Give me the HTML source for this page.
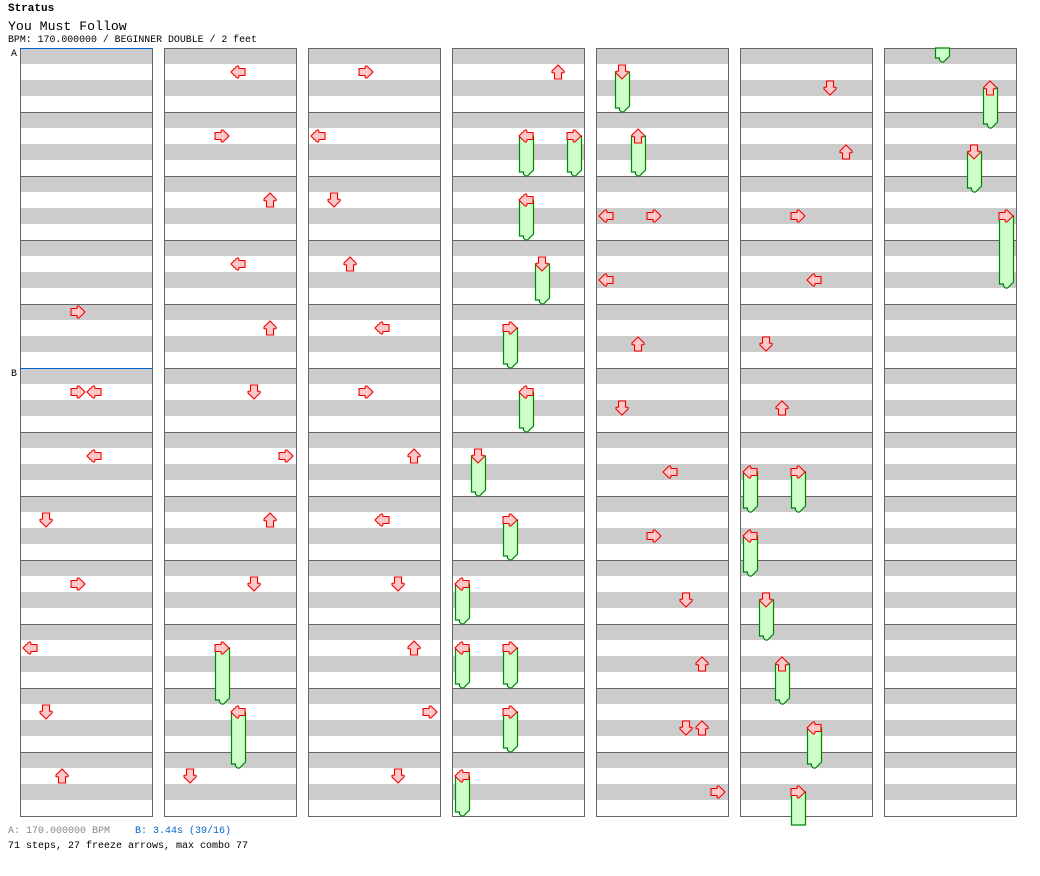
<!DOCTYPE html>
<html><head><meta charset="utf-8">
<style>
body{margin:0;background:#fff;width:1040px;height:876px;overflow:hidden;font-family:"Liberation Mono",monospace;}
.t{position:absolute;left:8px;white-space:pre;color:#000}
</style></head><body>
<div class="t" style="top:3px;font-size:11px;font-weight:bold">Stratus</div>
<div class="t" style="top:19px;font-size:13.2px">You Must Follow</div>
<div class="t" style="top:34px;font-size:9.9px">BPM: 170.000000 / BEGINNER DOUBLE / 2 feet</div>
<div class="t" style="top:48px;left:11px;font-size:9.9px">A</div>
<div class="t" style="top:368px;left:11px;font-size:9.9px">B</div>
<div class="t" style="top:826px;font-size:10px;color:#888">A: 170.000000 BPM</div>
<div class="t" style="top:826px;left:135px;font-size:10px;color:#0066cc">B: 3.44s (39/16)</div>
<div class="t" style="top:841px;font-size:10px">71 steps, 27 freeze arrows, max combo 77</div>
<svg id="s" width="1040" height="876" style="position:absolute;left:0;top:0" xmlns="http://www.w3.org/2000/svg"></svg>
<script>
var s='';
var cols=[20,164,308,452,596,740,884];
cols.forEach(function(x){
  for(var m=0;m<12;m++){var y=48+m*64;
    s+='<rect x="'+x+'" y="'+y+'" width="132" height="16" fill="#ccc"/><rect x="'+x+'" y="'+(y+32)+'" width="132" height="16" fill="#ccc"/>';
    if(m>0)s+='<line x1="'+x+'" y1="'+(y+.5)+'" x2="'+(x+132)+'" y2="'+(y+.5)+'" stroke="#666"/>';}
  s+='<rect x="'+(x+.5)+'" y="48.5" width="132" height="768" fill="none" stroke="#666"/>';
});
s+='<line x1="20" y1="48.5" x2="152" y2="48.5" stroke="#0066cc"/><line x1="20" y1="368.5" x2="152" y2="368.5" stroke="#0066cc"/>';
var rot=[0,270,90,180];
function arrow(c,l,t){var x=cols[c]+2+16*l;
 return '<g transform="translate('+x+','+t+') rotate('+rot[l%4]+',8,8)"><polygon points="1,8 7,2 8.5,2 9,4.5 15,4.5 15,11.5 9,11.5 8.5,14 7,14" fill="#ffc8c8" stroke="#e00" stroke-width="1.1"/></g>';}
function frz(c,l,t,e,notail){var x=cols[c]+3+16*l+.5,y=t+8;
 if(notail)return '<polygon points="'+x+','+y+' '+(x+14)+','+y+' '+(x+14)+','+e+' '+x+','+e+'" fill="#ccffcc" stroke="#080" stroke-width="1.2"/>';
 return '<polygon points="'+x+','+y+' '+(x+14)+','+y+' '+(x+14)+','+(e-6)+' '+(x+8)+','+e+' '+(x+6)+','+e+' '+(x+4)+','+(e-2)+' '+(x+4)+','+(e-4)+' '+x+','+(e-4)+'" fill="#ccffcc" stroke="#080" stroke-width="1.2"/>';}
var taps=[[0,3,304],[0,3,384],[0,4,384],[0,4,448],[0,1,512],[0,3,576],[0,0,640],[0,1,704],[0,2,768],
[1,4,64],[1,3,128],[1,6,192],[1,4,256],[1,6,320],[1,5,384],[1,7,448],[1,6,512],[1,5,576],[1,1,768],
[2,3,64],[2,0,128],[2,1,192],[2,2,256],[2,4,320],[2,3,384],[2,6,448],[2,4,512],[2,5,576],[2,6,640],[2,7,704],[2,5,768],
[3,6,64],
[4,0,208],[4,3,208],[4,0,272],[4,2,336],[4,1,400],[4,4,464],[4,3,528],[4,5,592],[4,6,656],[4,5,720],[4,6,720],[4,7,784],
[5,5,80],[5,6,144],[5,3,208],[5,4,272],[5,1,336],[5,2,400]];
var fr=[[1,3,640,704],[1,4,704,768],
[3,4,128,176],[3,7,128,176],[3,4,192,240],[3,5,256,304],[3,3,320,368],[3,4,384,432],[3,1,448,496],[3,3,512,560],[3,0,576,624],[3,0,640,688],[3,3,640,688],[3,3,704,752],[3,0,768,816],
[4,1,64,112],[4,2,128,176],
[5,0,464,512],[5,3,464,512],[5,0,528,576],[5,1,592,640],[5,2,656,704],[5,4,720,768],
[6,6,80,128],[6,5,144,192],[6,7,208,288]];
fr.forEach(function(f){s+=frz(f[0],f[1],f[2],f[3]);});
s+=frz(5,3,784,825,true);
s+=frz(6,3,40,62);
fr.forEach(function(f){s+=arrow(f[0],f[1],f[2]);});
s+=arrow(5,3,784);
taps.forEach(function(a){s+=arrow(a[0],a[1],a[2]);});
document.getElementById('s').innerHTML=s;
</script>
</body></html>
